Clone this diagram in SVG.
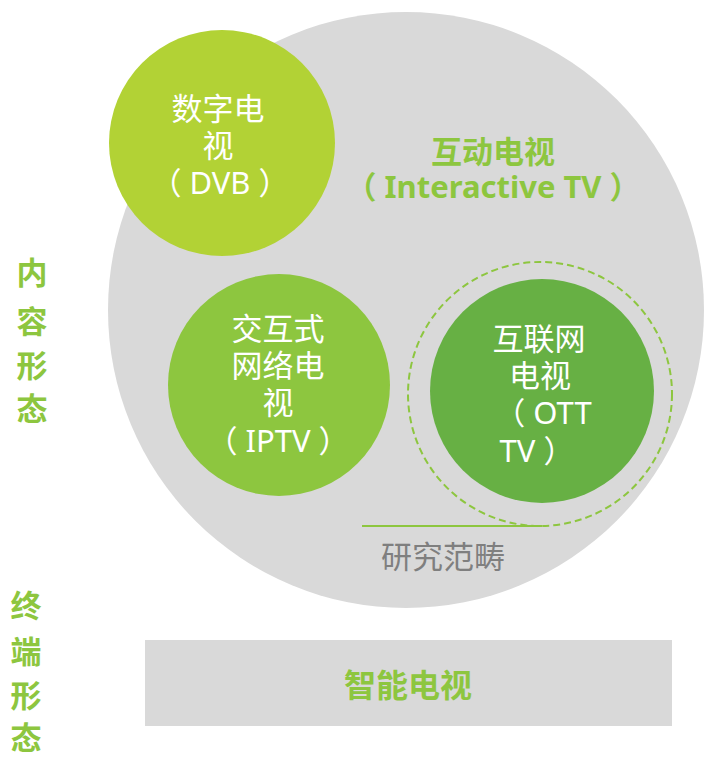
<svg xmlns="http://www.w3.org/2000/svg" width="705" height="759" viewBox="0 0 705 759">
<style>
text{font-family:"Noto Sans","Noto Sans CJK SC",sans-serif;text-anchor:middle}
.w{fill:#ffffff;font-size:31px}
.g{fill:#8dc63f;font-weight:bold}
.side{fill:#8dc63f;font-weight:bold;font-size:31px}
</style>
<rect width="705" height="759" fill="#ffffff"/>
<g id="interactive-tv">
<circle cx="406" cy="310" r="298" fill="#d9d9d9"/>
<text class="g" x="493" y="163" font-size="31">互动电视</text>
<text class="g" x="493" y="198" font-size="31">（ Interactive TV ）</text>
</g>
<g id="dvb">
<circle cx="222" cy="143" r="113" fill="#b2d235"/>
<text class="w" x="218" y="120">数字电</text>
<text class="w" x="218" y="157">视</text>
<text class="w" x="220" y="194">（ DVB ）</text>
</g>
<g id="iptv">
<circle cx="279" cy="385" r="111" fill="#8dc63f"/>
<text class="w" x="278" y="340">交互式</text>
<text class="w" x="278" y="377">网络电</text>
<text class="w" x="278" y="414">视</text>
<text class="w" x="278" y="452">（ IPTV ）</text>
</g>
<g id="ott">
<circle cx="540" cy="394" r="132" fill="none" stroke="#8dc63f" stroke-width="2" stroke-dasharray="7,4"/>
<circle cx="542" cy="391" r="112" fill="#67b044"/>
<text class="w" x="539" y="350">互联网</text>
<text class="w" x="540" y="387">电视</text>
<text class="w" x="543" y="424">（ OTT</text>
<text class="w" x="537" y="462">TV ）</text>
</g>
<g id="connectors">
<line x1="362" y1="526" x2="542" y2="526" stroke="#8dc63f" stroke-width="2"/>
</g>
<g id="scope-label">
<text x="443" y="568" font-size="31" fill="#7f7f7f">研究范畴</text>
</g>
<g id="content-form">
<text class="side" x="32" y="284">内</text>
<text class="side" x="32" y="333">容</text>
<text class="side" x="32" y="377">形</text>
<text class="side" x="32" y="420">态</text>
</g>
<g id="terminal-form">
<text class="side" x="26" y="617">终</text>
<text class="side" x="26" y="663">端</text>
<text class="side" x="26" y="707">形</text>
<text class="side" x="26" y="749">态</text>
</g>
<g id="smart-tv">
<rect x="145" y="640" width="527" height="86" fill="#d9d9d9"/>
<text class="g" x="408" y="697" font-size="32">智能电视</text>
</g>
</svg>
